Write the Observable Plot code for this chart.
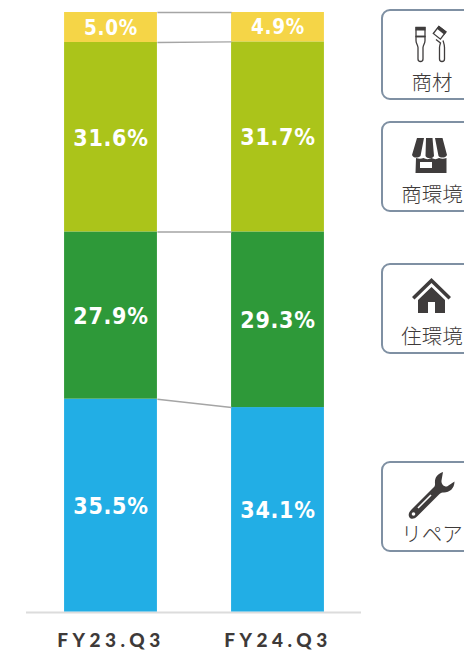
<!DOCTYPE html>
<html><head><meta charset="utf-8">
<script src="https://cdn.jsdelivr.net/npm/d3@7"></script>
<script src="https://cdn.jsdelivr.net/npm/@observablehq/plot@0.6"></script>
<style>
html,body{margin:0;padding:0;background:#fff;overflow:hidden}
#wrap{position:relative;width:464px;height:650px;overflow:hidden}
#wrap svg{position:absolute;left:0;top:0;display:block}
.val text{letter-spacing:0.7px;font-family:"DejaVu Sans",sans-serif;font-stretch:condensed}
.period text{letter-spacing:4.5px}
.card{font-family:"Noto Sans CJK JP","Noto Sans",sans-serif;font-size:20.500px;font-weight:300;fill:#3e3a39}
</style></head><body><div id="wrap"></div>
<script>
const periods = ["FY23.Q3", "FY24.Q3"];
const segments = ["リペア", "住環境", "商環境", "商材"];
const fy23 = [35.5, 27.9, 31.6, 5.0];
const fy24 = [34.1, 29.3, 31.7, 4.9];
const colors = ["#22aee5", "#2e9939", "#abc41a", "#f5d547"];
const halfBar = 0.278;

const rows = [];
[fy23, fy24].forEach((vals, p) => {
  let base = 0;
  vals.forEach((v, s) => {
    rows.push({p, segment: segments[s], v, y1: base, y2: base + v, mid: base + v / 2});
    base += v;
  });
});
const links = d3.range(segments.length).map(s => ({
  a: rows.filter(r => r.p === 0)[s].y2,
  b: rows.filter(r => r.p === 1)[s].y2
}));

const chart = Plot.plot({
  width: 464, height: 650,
  marginLeft: 26, marginRight: 103, marginTop: 12, marginBottom: 38.5,
  x: {domain: [-0.506, 1.5], axis: null},
  y: {domain: [0, 100], axis: null},
  color: {domain: segments, range: colors},
  style: {background: "transparent", fontFamily: "Lato, sans-serif"},
  marks: [
    Plot.ruleY([0], {stroke: "#dcdcdc", strokeWidth: 2, dy: 0.5}),
    Plot.rect(rows, {x1: d => d.p - halfBar, x2: d => d.p + halfBar, y1: "y1", y2: "y2", fill: "segment"}),
    Plot.link(links, {x1: () => halfBar, x2: () => 1 - halfBar, y1: "a", y2: "b", stroke: "#a5a5a5", strokeWidth: 1.5}),
    Plot.text(rows.filter(r => r.v > 10), {x: "p", y: "mid", dy: 1, text: d => d.v.toFixed(1) + "%", fill: "white", fontSize: 23, fontWeight: 700, className: "val"}),
    Plot.text(rows.filter(r => r.v <= 10), {x: "p", y: "mid", dy: 0.5, text: d => d.v.toFixed(1) + "%", fill: "white", fontSize: 20.5, fontWeight: 700, className: "val"}),
    Plot.text(periods, {x: (d, i) => i, y: () => 0, dy: 29, text: d => d, fill: "#3e3a39", fontSize: 19, fontWeight: 900, className: "period"})
  ]
});
document.getElementById("wrap").appendChild(chart);

// Category cards beside the bars (clipped by the page edge, as in the source)
const cards = [
  {label: "商材", top: 10, cx: 432},
  {label: "商環境", top: 122, cx: 432},
  {label: "住環境", top: 264, cx: 432},
  {label: "リペア", top: 462, cx: 432}
];
const ink = "#3f3c3c";
const icons = [
  `<g fill="none" stroke="${ink}" stroke-width="1.3">
     <path d="M416 27.5h9v9h-9z"/><rect x="415.500" y="27" width="10" height="3.500" fill="${ink}" stroke="none"/>
     <path d="M416 36.500h9v4c0 3-1.500 4-2 7v11.500a2.500 2.500 0 0 1-5 0V47.500c-.5-3-2-4-2-7z"/>
     <g transform="rotate(38 438 34)"><path d="M434 27.500h9v9h-9z"/><rect x="433.500" y="27" width="10" height="3.500" fill="${ink}" stroke="none"/></g>
     <path d="M436 39.500l4.500 3.500c-.5 1.500-1 3-1 4.500v11.500a2.500 2.500 0 0 0 5 0V47.500c0-3-1-5-1.500-7"/>
   </g>`,
  `<g fill="${ink}">
     <path d="M417 138h7l-3.500 18c-3 2.500-7.500 2-8.500-1zM426 138h6.500l1.500 18c-1.500 3-7 3-8.500 0zM435 138h7.500l4.500 17c-1 3-6.500 3.500-8.500 1z"/>
     <path d="M416 158c3 1 5 1 7.500 0 2.500 1.500 5 1.500 8 0 3 1.500 5 1.500 7.500 0 2.500 1 5 1 7.500 0V173h-31zM420 162v6h12v-6z" fill-rule="evenodd"/>
   </g>`,
  `<g fill="${ink}">
     <path d="M431.500 278l19.500 19-2.500 2.500-17-16.500-17 16.500-2.500-2.500z"/>
     <path d="M431.500 287l13.500 13v13h-10v-11h-7v11h-10v-13z"/>
   </g>`,
  `<g fill="${ink}">
     <path d="M443 472c-6 2-8.500 6-8 11.500 .2 2-.5 3-1.500 4l-22 22c-3 3-3.500 6-2 8s5 1.500 7.500-1l22.500-22.500c1.500-1.300 2.500-1.500 4.500-1.500 5.500 0 10.500-4 10.500-11l-7.500 5c-3 .5-6-2.500-5.500-6z"/>
     <circle cx="413.500" cy="514" r="1.800" fill="#fff"/>
     <path d="M418 508l13-13" stroke="#fff" stroke-width="1.600" fill="none"/>
   </g>`
];
const overlay = d3.select("#wrap").append("svg").attr("width", 464).attr("height", 650);
cards.forEach((c, i) => {
  overlay.append("rect").attr("x", 382).attr("y", c.top).attr("width", 120).attr("height", 89)
    .attr("rx", 8).attr("fill", "#fff").attr("stroke", "#7f90a3").attr("stroke-width", 2);
  overlay.append("g").html(icons[i]);
  overlay.append("text").attr("class", "card").attr("x", c.cx).attr("y", c.top + 80)
    .attr("text-anchor", "middle").text(c.label);
});
</script></body></html>
